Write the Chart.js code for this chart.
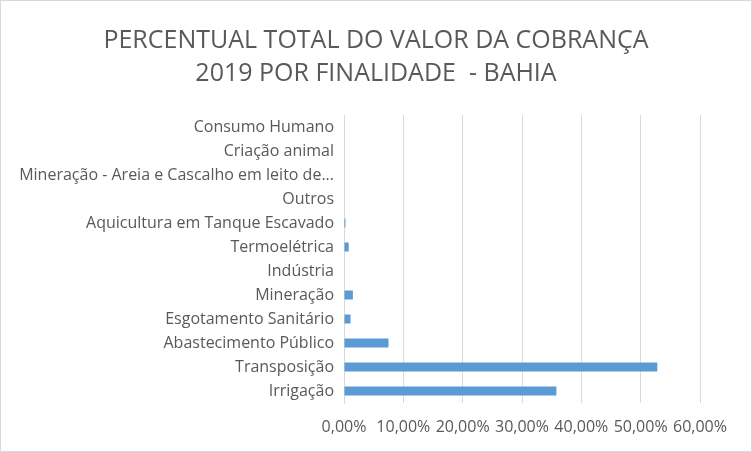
<!DOCTYPE html>
<html>
<head>
<meta charset="utf-8">
<script src="https://cdn.jsdelivr.net/npm/chart.js@4"></script>
<style>
  body { margin: 0; background: #fff; }
  #wrap { width: 752px; height: 452px; box-sizing: border-box; border: 1px solid #d9d9d9; }
</style>
</head>
<body>
<div id="wrap"><canvas id="myChart" width="750" height="450"></canvas></div>
<script>
// categories top to bottom, as in the picture
const finalidades = [
    'Consumo Humano',
    'Criação animal',
    'Mineração - Areia e Cascalho em leito de...',
    'Outros',
    'Aquicultura em Tanque Escavado',
    'Termoelétrica',
    'Indústria',
    'Mineração',
    'Esgotamento Sanitário',
    'Abastecimento Público',
    'Transposição',
    'Irrigação'
];
const percentuais = [0, 0, 0, 0, 0.25, 0.8, 0, 1.5, 1.1, 7.5, 52.8, 35.8];
const tickValues = [0, 10, 20, 30, 40, 50, 60];

const ctx = document.getElementById('myChart').getContext('2d');
new Chart(ctx, {
    type: 'bar',
    data: {
        labels: finalidades,
        datasets: [{
            data: percentuais,
            backgroundColor: '#5b9bd5',
            barPercentage: 0.75,
            categoryPercentage: 0.5
        }]
    },
    options: {
        indexAxis: 'y',
        responsive: false,
        animation: false,
        layout: { padding: 0 },
        plugins: {
            legend: { display: false },
            tooltip: { enabled: false },
            title: {
                display: true,
                text: ['PERCENTUAL TOTAL DO VALOR DA COBRANÇA', '2019 POR FINALIDADE  - BAHIA'],
                color: '#595959',
                font: { family: 'Open Sans', size: 25, weight: 'normal', lineHeight: 1.32 },
                padding: { top: 23, bottom: 25 }
            }
        },
        scales: {
            x: {
                min: 0,
                max: 60,
                afterBuildTicks: scale => { scale.ticks = tickValues.map(v => ({ value: v })); },
                afterFit: scale => { scale.height = 48; scale.paddingRight = 51; },
                ticks: {
                    color: '#595959',
                    font: { family: 'Open Sans', size: 16 },
                    padding: 15,
                    maxRotation: 0,
                    callback: v => v.toFixed(2).replace('.', ',') + '%'
                },
                grid: { color: '#d9d9d9', tickLength: 0 },
                border: { display: false }
            },
            y: {
                afterFit: scale => { scale.width = 343; },
                ticks: {
                    color: '#595959',
                    font: { family: 'Open Sans', size: 16 },
                    padding: 10,
                    autoSkip: false
                },
                grid: { display: false, drawTicks: false },
                border: { color: '#d9d9d9' }
            }
        }
    }
});
</script>
</body>
</html>
